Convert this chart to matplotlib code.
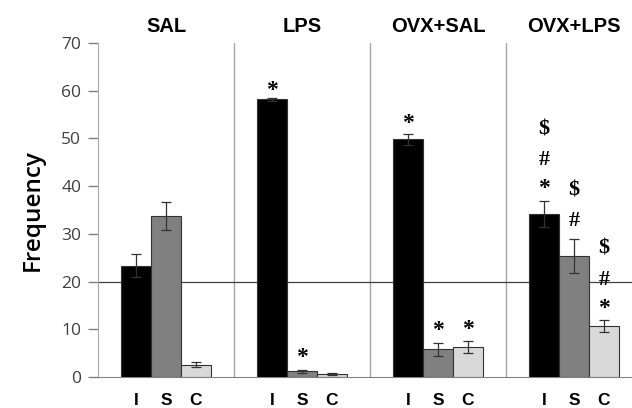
import numpy as np
import matplotlib.pyplot as plt

# Data
groups = ["SAL", "LPS", "OVX+SAL", "OVX+LPS"]
bar_labels = ["I", "S", "C"]
means_I = [23.3, 58.2, 49.8, 34.1]
means_S = [33.8, 1.2, 5.8, 25.4]
means_C = [2.6, 0.7, 6.3, 10.7]
err_I = [2.4, 0.3, 1.1, 2.7]
err_S = [2.9, 0.3, 1.3, 3.6]
err_C = [0.5, 0.2, 1.3, 1.2]

# significance marks: (group, bar, symbol, y)
marks = [
    (1, 0, "*", 61.2),
    (1, 1, "*", 5.3),
    (2, 0, "*", 54.3),
    (2, 1, "*", 10.9),
    (2, 2, "*", 11.1),
    (3, 0, "$", 51.8), (3, 0, "#", 45.5), (3, 0, "*", 40.7),
    (3, 1, "$", 39.0), (3, 1, "#", 32.7),
    (3, 2, "$", 27.0), (3, 2, "#", 20.3), (3, 2, "*", 15.5),
]

fig = plt.figure(figsize=(6.32, 4.08), dpi=100)
ax = fig.add_axes([98 / 632, 31 / 408, 544 / 632, 334 / 408])

x = np.arange(len(groups))
w = 0.22
offsets = [-w, 0, w]
colors = ["black", "#808080", "#d9d9d9"]
all_means = [means_I, means_S, means_C]
all_err = [err_I, err_S, err_C]

for k in range(3):
    ax.bar(x + offsets[k], all_means[k], width=w, color=colors[k],
           edgecolor="#333333", linewidth=0.8, zorder=3,
           yerr=all_err[k], capsize=3.5,
           error_kw=dict(ecolor="#333333", elinewidth=0.9, capthick=0.9, zorder=4))

# panel dividers
for d in x[:-1] + 0.5:
    ax.plot([d, d], [0, 70], color="#a6a6a6", linewidth=1.0, zorder=1)

ax.axhline(20, color="#404040", linewidth=0.9, zorder=2)

# group titles
for i, g in enumerate(groups):
    ax.text(i, 73.5, g, ha="center", va="center", fontsize=14.5,
            fontweight="bold", family="Liberation Sans")

# bar labels under the axis
for i in x:
    for k in range(3):
        ax.text(i + offsets[k], -4.9, bar_labels[k], ha="center", va="center",
                fontsize=12.5, fontweight="bold", family="Liberation Sans")

for g, b, s, yv in marks:
    dy = -1.2 if s == "*" else 0
    ax.text(g + offsets[b], yv + dy, s, ha="center", va="center",
            fontsize=17 if s == "*" else 16, fontweight="bold",
            family="Liberation Serif", zorder=5)

ax.set_xlim(-0.5, 3.5)
ax.set_ylim(0, 70)
ax.set_yticks(range(0, 71, 10))
ax.set_xticks([])
ax.tick_params(axis="y", colors="#808080", length=7, width=1, pad=5,
               labelcolor="#404040", labelsize=12.5)
for lbl in ax.get_yticklabels():
    lbl.set_family("Open Sans")
ax.set_ylabel("Frequency", fontsize=17.5, family="Open Sans",
              fontweight="semibold", labelpad=12)

for side in ["top", "right"]:
    ax.spines[side].set_visible(False)
ax.spines["left"].set_color("#a6a6a6")
ax.spines["bottom"].set_color("#808080")

fig.savefig("out.png", dpi=100)
